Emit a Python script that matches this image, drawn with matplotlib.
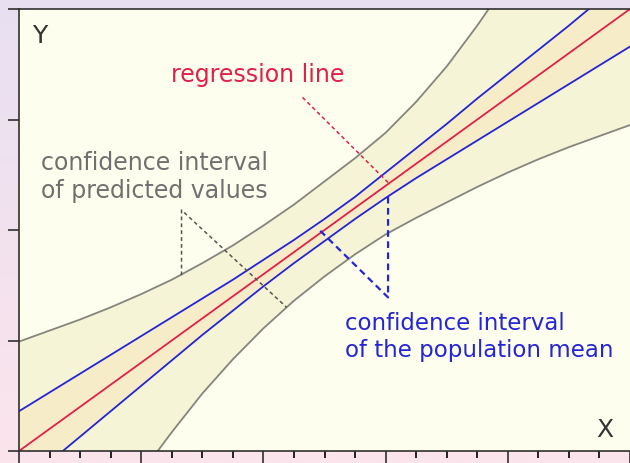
import numpy as np
import matplotlib.pyplot as plt
from matplotlib.colors import LinearSegmentedColormap

# x grid and curves (x: 0..5, y: 0..4)
x = [0, 0.25, 0.5, 0.75, 1.0, 1.25, 1.5, 1.75, 2.0, 2.25, 2.5,
     2.75, 3.0, 3.25, 3.5, 3.75, 4.0, 4.25, 4.5, 4.75, 5.0]
regression = [0.0, 0.2, 0.4, 0.6, 0.8, 1.0, 1.2, 1.4, 1.6, 1.8, 2.0,
              2.2, 2.4, 2.6, 2.8, 3.0, 3.2, 3.4, 3.6, 3.8, 4.0]
mean_upper = [0.36, 0.53, 0.70, 0.87, 1.04, 1.21, 1.38, 1.55, 1.73, 1.91, 2.10,
              2.30, 2.52, 2.74, 2.96, 3.19, 3.41, 3.63, 3.85, 4.08, 4.30]
mean_lower = [-0.33, -0.10, 0.13, 0.36, 0.59, 0.82, 1.05, 1.27, 1.49, 1.70, 1.90,
              2.10, 2.29, 2.47, 2.64, 2.81, 2.98, 3.15, 3.32, 3.49, 3.66]
pred_upper = [0.99, 1.09, 1.19, 1.30, 1.42, 1.55, 1.70, 1.86, 2.04, 2.23, 2.44,
              2.65, 2.88, 3.16, 3.48, 3.85, 4.25, 4.70, 5.20, 5.70, 6.20]
pred_lower = [-1.8, -1.4, -1.0, -0.6, -0.2, 0.17, 0.52, 0.83, 1.11, 1.36, 1.58,
              1.78, 1.96, 2.11, 2.25, 2.39, 2.52, 2.64, 2.75, 2.85, 2.95]

# leader lines of the labels
red_leader_x = [2.32, 3.02]
red_leader_y = [3.20, 2.43]
gray_leader_x = [1.33, 1.33, 2.19]
gray_leader_y = [1.59, 2.18, 1.30]
blue_leader_x = [3.02, 3.02, 2.44]
blue_leader_y = [2.30, 1.39, 2.02]

red = '#E0204A'
blue = '#2424D8'
gray_line = '#85857D'
gray_text = '#707070'

fig = plt.figure(figsize=(6.3, 4.63), dpi=100)

# lavender -> pink background
bg = fig.add_axes([0, 0, 1, 1], zorder=-1)
cmap = LinearSegmentedColormap.from_list('bg', ['#E8E0F2', '#FCE4EC'])
bg.imshow(np.linspace(0, 1, 256).reshape(-1, 1), cmap=cmap, aspect='auto',
          extent=[0, 1, 0, 1])
bg.axis('off')

ax = fig.add_axes([19 / 630, 12 / 463, 611 / 630, 442 / 463])
ax.set_facecolor('#FEFEEE')

ax.fill_between(x, pred_lower, pred_upper, color='#F5F4D7', lw=0)
ax.fill_between(x, mean_lower, mean_upper, color='#F6ECC8', lw=0)
ax.plot(x, pred_upper, color=gray_line, lw=1.3)
ax.plot(x, pred_lower, color=gray_line, lw=1.3)
ax.plot(x, mean_upper, color=blue, lw=1.3)
ax.plot(x, mean_lower, color=blue, lw=1.3)
ax.plot(x, regression, color=red, lw=1.3)

ax.plot(red_leader_x, red_leader_y, color=red, lw=1.1, ls=(0, (2.5, 2)))
ax.plot(gray_leader_x, gray_leader_y, color='#555555', lw=1.1, ls=(0, (2.5, 2)))
ax.plot(blue_leader_x, blue_leader_y, color=blue, lw=1.6, ls=(0, (3, 2)))

ax.text(1.956, 3.40, 'regression line', color=red, fontsize=17,
        ha='center', va='center')
ax.text(1.11, 2.48, 'confidence interval\nof predicted values', color=gray_text,
        fontsize=17, ha='center', va='center', linespacing=1.2)
ax.text(2.668, 1.03, 'confidence interval\nof the population mean', color=blue,
        fontsize=16.5, ha='left', va='center', linespacing=1.2)
ax.text(0.172, 3.76, 'Y', color='#333333', fontsize=18, ha='center', va='center')
ax.text(4.795, 0.19, 'X', color='#333333', fontsize=18, ha='center', va='center')

ax.set_xlim(0, 5)
ax.set_ylim(0, 4)
ax.set_xticks(range(6))
ax.set_xticks(np.arange(0, 5.01, 0.25), minor=True)
ax.set_yticks(range(5))
ax.tick_params(labelbottom=False, labelleft=False, direction='out', color='#303030')
ax.tick_params(axis='x', which='major', length=9, width=1.2)
ax.tick_params(axis='x', which='minor', length=5, width=1.2)
ax.tick_params(axis='y', length=8, width=1.2)
ax.spines['right'].set_visible(False)
for s in ['left', 'bottom', 'top']:
    ax.spines[s].set_color('#303030')
    ax.spines[s].set_linewidth(1.2)

plt.savefig('out.png', dpi=100)
